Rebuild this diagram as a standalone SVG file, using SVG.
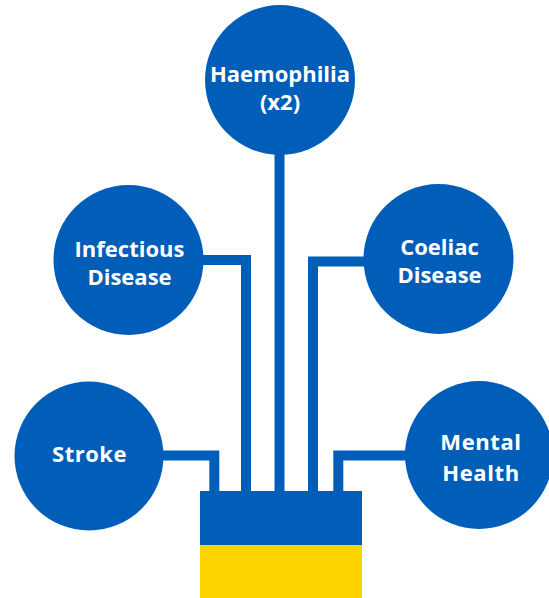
<svg xmlns="http://www.w3.org/2000/svg" width="549" height="598" viewBox="0 0 549 598">
  <style>
    .node circle { fill: #005EB8; }
    .node text { fill: #ffffff; font-family: "Open Sans", "Liberation Sans", sans-serif; font-weight: bold; font-size: 22px; text-anchor: middle; }
    .conn path { fill: none; stroke: #005EB8; stroke-width: 10; stroke-linejoin: miter; }
  </style>
  <rect width="549" height="598" fill="#ffffff"/>
  <g id="connectors" class="conn">
    <path d="M 200 260 H 246 V 492"/>
    <path d="M 279.5 150 V 492"/>
    <path d="M 368 261.5 H 313 V 492"/>
    <path d="M 160 455.5 H 214.3 V 492"/>
    <path d="M 410 455.5 H 338.3 V 492"/>
  </g>
  <g id="base">
    <rect x="200" y="491" width="162" height="54" fill="#005EB8"/>
    <rect x="200" y="545" width="162" height="53" fill="#FFD300"/>
  </g>
  <g id="haemophilia" class="node">
    <circle cx="280" cy="80" r="75"/>
    <text x="280" y="82">Haemophilia</text>
    <text x="280" y="110">(x2)</text>
  </g>
  <g id="infectious" class="node">
    <circle cx="128.5" cy="260" r="75"/>
    <text x="129.5" y="257">Infectious</text>
    <text x="129.5" y="285">Disease</text>
  </g>
  <g id="coeliac" class="node">
    <circle cx="438.5" cy="259" r="75"/>
    <text x="439.5" y="255">Coeliac</text>
    <text x="439.5" y="283">Disease</text>
  </g>
  <g id="stroke" class="node">
    <circle cx="89" cy="456" r="74.5"/>
    <text x="89.5" y="462" letter-spacing="0.5">Stroke</text>
  </g>
  <g id="mental" class="node">
    <circle cx="479" cy="455" r="74"/>
    <text x="481" y="450" letter-spacing="0.6">Mental</text>
    <text x="481" y="481" letter-spacing="0.6">Health</text>
  </g>
</svg>
